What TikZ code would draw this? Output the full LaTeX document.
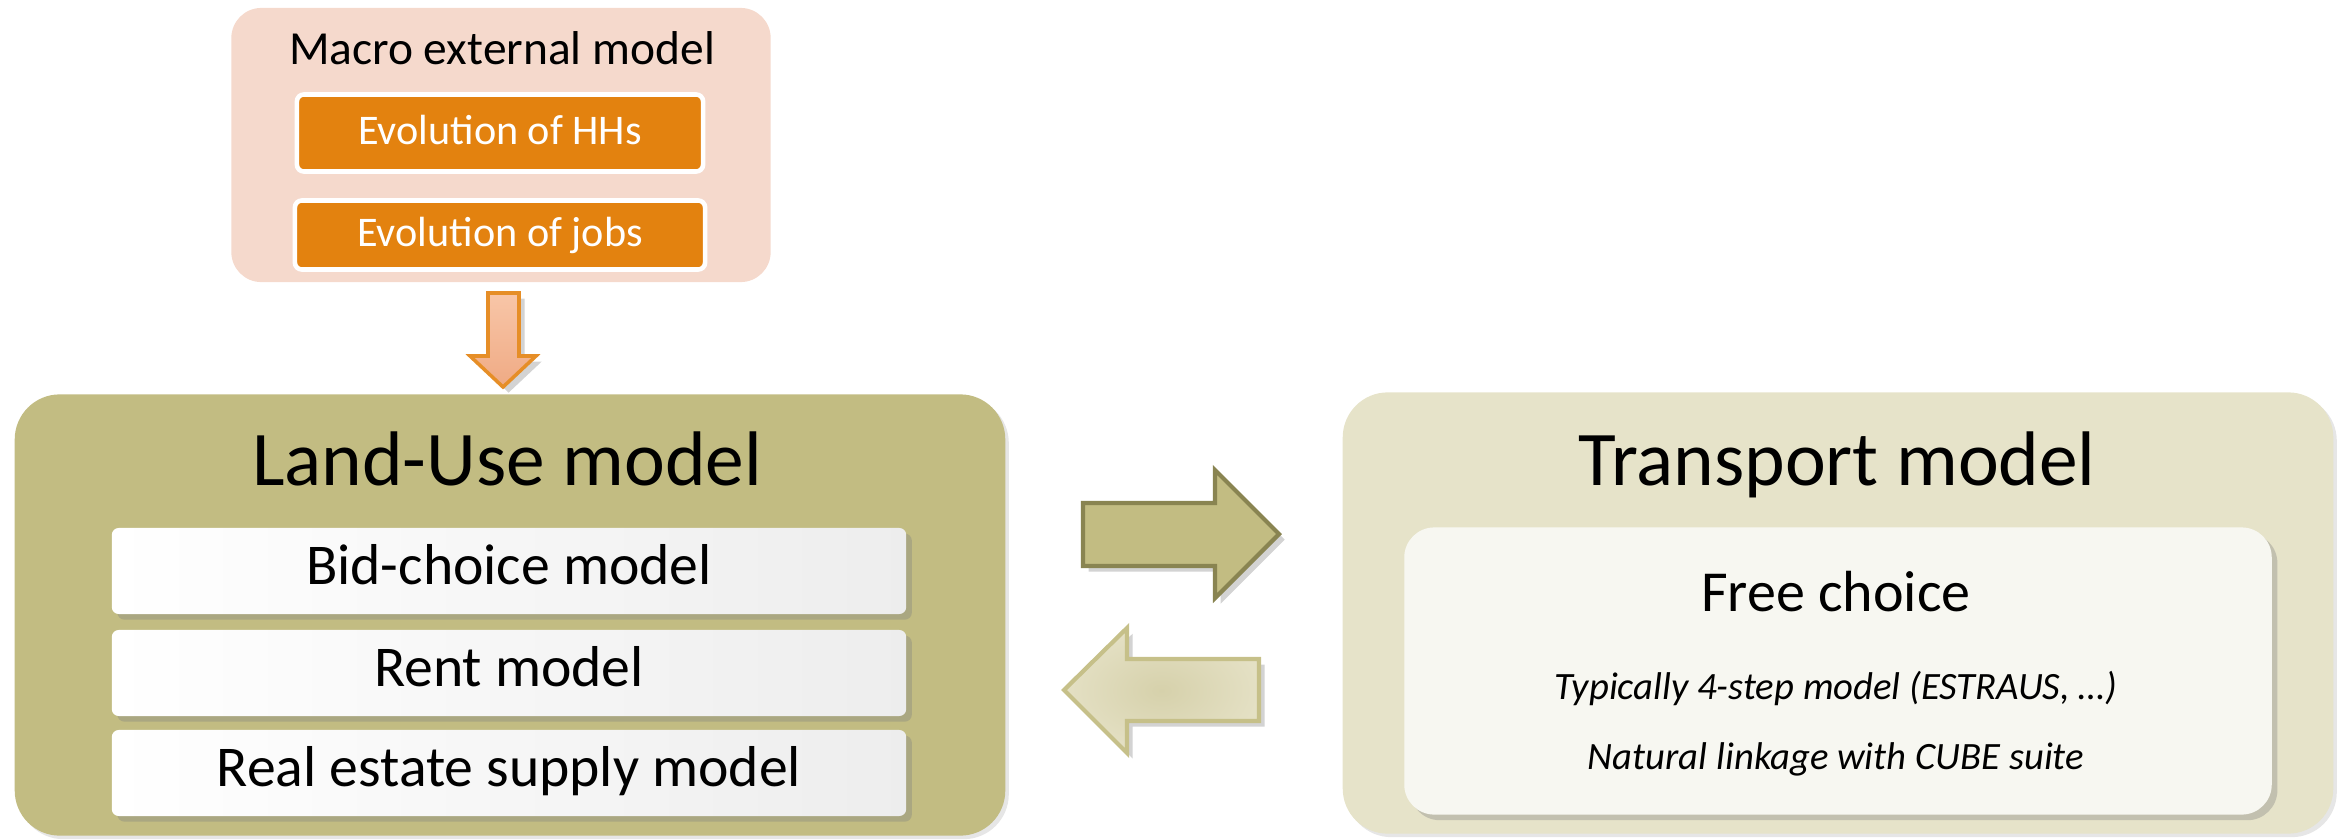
\documentclass[tikz,border=0pt]{standalone}
\usepackage{fontspec}
\setmainfont{Carlito}
\usetikzlibrary{shadows}

\definecolor{peach}{HTML}{F5D9CC}
\definecolor{orng}{HTML}{E3820F}
\definecolor{arrowtop}{HTML}{F8C6A8}
\definecolor{arrowbot}{HTML}{EFAA84}
\definecolor{olive}{HTML}{C2BC82}
\definecolor{olivedark}{HTML}{898451}
\definecolor{oliveline}{HTML}{C6C089}
\definecolor{olivein}{HTML}{D6D1AB}
\definecolor{oliveout}{HTML}{E4E0C4}
\definecolor{sand}{HTML}{E6E3C9}
\definecolor{cream}{HTML}{F7F7F1}

\tikzset{
 shade/.style={drop shadow={shadow xshift=1.6pt, shadow yshift=-1.6pt, opacity=0.35}},
 model/.style={rounded corners=0.45cm, minimum width=9.9cm, minimum height=4.41cm, inner sep=0pt,
   drop shadow={shadow xshift=1pt, shadow yshift=-1pt, opacity=0.2}},
 title/.style={anchor=base, font=\fontsize{22}{26}\selectfont},
 part/.style={rounded corners=0.07cm, minimum width=7.94cm, minimum height=0.86cm, inner sep=0pt,
   left color=white, right color=black!7, shade,
   text height=0.74em, text depth=0pt, font=\fontsize{16.4}{19}\selectfont},
 evo/.style={fill=orng, draw=white, line width=1.3pt, rounded corners=0.07cm, inner sep=0pt,
   text=white, text height=0.66em, text depth=0pt, font=\fontsize{12}{14}\selectfont},
 note/.style={anchor=base, font=\fontsize{11}{13}\selectfont\itshape},
}

\begin{document}
\begin{tikzpicture}[x=0.01cm, y=-0.01cm]
 \useasboundingbox (0,0) rectangle (2351,839);
 %
 % external model on top
 \node[fill=peach, rounded corners=0.3cm, minimum width=5.39cm, minimum height=2.74cm] (macro) at (501,145) {};
 \node[anchor=base, font=\fontsize{13.5}{16}\selectfont] (macrotitle) at (502,64) {Macro external model};
 \node[evo, minimum width=4.06cm, minimum height=0.77cm] (hh) at (500,133) {Evolution of HHs};
 \node[evo, minimum width=4.10cm, minimum height=0.69cm] (jobs) at (500,235) {Evolution of jobs};
 %
 \draw[draw=orng!90, line width=1pt, top color=arrowtop, bottom color=arrowbot, shade]
  (488,293) -- (519,293) -- (519,356) -- (536,356) -- (503,387) -- (470,356) -- (488,356) -- cycle;
 %
 % land use side
 \node[model, fill=olive] (landuse) at (510,615) {};
 \node[title] (lutitle) at (507,485) {Land-Use model};
 \node[part] (bid) at (509,571) {Bid-choice model};
 \node[part] (rent) at (509,673) {Rent model};
 \node[part] (supply) at (509,773) {Real estate supply model};
 %
 % transport side
 \node[model, fill=sand] (transport) at (1838,613) {};
 \node[title] (tptitle) at (1837,485) {Transport model};
 \node[fill=cream, rounded corners=0.3cm, minimum width=8.67cm, minimum height=2.87cm, shade] (free) at (1838,671) {};
 \node[anchor=base, font=\fontsize{16.5}{19}\selectfont] (freetitle) at (1836,611) {Free choice};
 \node[note] (fourstep) at (1836,699) {Typically 4-step model (ESTRAUS, …)};
 \node[note] (cube) at (1836,769) {Natural linkage with CUBE suite};
 %
 % exchange between the two models
 \draw[draw=olivedark, line width=1.2pt, fill=olive, shade]
  (1083,503) -- (1215,503) -- (1215,470) -- (1279,534) -- (1215,598) -- (1215,566) -- (1083,566) -- cycle;
 \draw[draw=oliveline, line width=1.2pt, inner color=olivein, outer color=oliveout, shade]
  (1259,659) -- (1127,659) -- (1127,628) -- (1064,690) -- (1127,753) -- (1127,721) -- (1259,721) -- cycle;
\end{tikzpicture}
\end{document}
